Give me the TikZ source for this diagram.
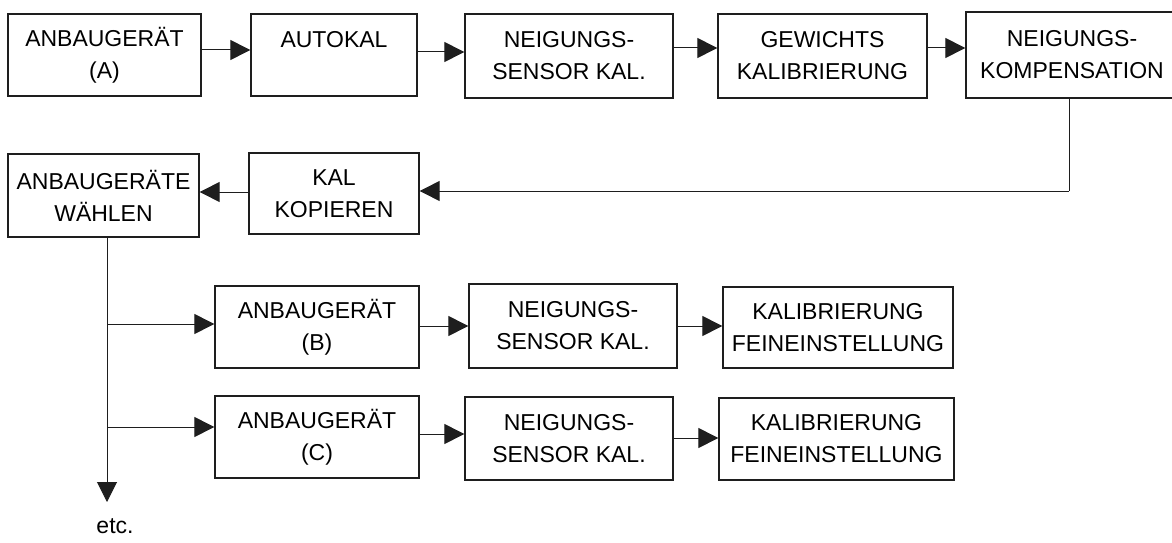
\documentclass[tikz,border=0pt]{standalone}
\usepackage{fontspec}
\setmainfont{Liberation Sans}
\usetikzlibrary{arrows.meta}
\definecolor{ln}{RGB}{30,30,30}
\tikzset{
  box/.style={draw=ln, line width=1.3pt, inner sep=0pt, align=center,
    font=\fontsize{23}{32}\selectfont, text=black},
  arr/.style={draw=ln, line width=1pt, -{Triangle[length=20pt,width=20pt]}},
  ln1/.style={draw=ln, line width=1pt}
}
\begin{document}
\begin{tikzpicture}[x=1pt,y=-1pt]
\useasboundingbox (0,0) rectangle (1172,543);
% row 1
\node[box, minimum width=193pt, minimum height=82pt] (A) at (104.5,55) {ANBAUGERÄT\\(A)};
\node[box, minimum width=166pt, minimum height=82pt] (AK) at (334,55) {AUTOKAL\\\mbox{}};
\node[box, minimum width=208pt, minimum height=84pt] (NS1) at (569,56) {NEIGUNGS-\\SENSOR KAL.};
\node[box, minimum width=209pt, minimum height=84pt] (GW) at (822.5,56) {GEWICHTS\\KALIBRIERUNG};
\node[box, minimum width=212pt, minimum height=86pt] (NK) at (1072,55) {NEIGUNGS-\\KOMPENSATION};
% row 2
\node[box, minimum width=170pt, minimum height=81pt] (KK) at (334,193.5) {KAL\\KOPIEREN};
\node[box, minimum width=191pt, minimum height=83pt] (AW) at (103.5,195.5) {ANBAUGERÄTE\\WÄHLEN};
% row B
\node[box, minimum width=204pt, minimum height=82pt] (B) at (317,327) {ANBAUGERÄT\\(B)};
\node[box, minimum width=208pt, minimum height=84pt] (NSB) at (573,326) {NEIGUNGS-\\SENSOR KAL.};
\node[box, minimum width=230pt, minimum height=81pt] (KFB) at (838,327.5) {KALIBRIERUNG\\FEINEINSTELLUNG};
% row C
\node[box, minimum width=204pt, minimum height=82pt] (C) at (317,437) {ANBAUGERÄT\\(C)};
\node[box, minimum width=208pt, minimum height=83pt] (NSC) at (569,438.5) {NEIGUNGS-\\SENSOR KAL.};
\node[box, minimum width=235pt, minimum height=82pt] (KFC) at (836.5,439) {KALIBRIERUNG\\FEINEINSTELLUNG};
% etc
\node[font=\fontsize{23}{32}\selectfont, inner sep=0pt] (etc) at (115,526) {etc.};
\coordinate (down) at (107,502);
\coordinate (turn) at (1069,191);
\coordinate (jB) at (107,324);
\coordinate (jC) at (107,427);
% row 1 connectors
\draw[arr] (A.east |- 0,50) -- (AK.west |- 0,50);
\draw[arr] (AK.east |- 0,52) -- (NS1.west |- 0,52);
\draw[arr] (NS1.east |- 0,48) -- (GW.west |- 0,48);
\draw[arr] (GW.east |- 0,48) -- (NK.west |- 0,48);
% return
\draw[ln1] (NK.south -| turn) -- (turn);
\draw[arr] (turn) -- (KK.east |- turn);
\draw[arr] (KK.west |- 0,192) -- (AW.east |- 0,192);
% trunk
\draw[arr] (AW.south -| down) -- (down);
\draw[arr] (jB) -- (B.west |- jB);
\draw[arr] (jC) -- (C.west |- jC);
% branch connectors
\draw[arr] (B.east |- 0,326) -- (NSB.west |- 0,326);
\draw[arr] (NSB.east |- 0,326) -- (KFB.west |- 0,326);
\draw[arr] (C.east |- 0,434) -- (NSC.west |- 0,434);
\draw[arr] (NSC.east |- 0,438) -- (KFC.west |- 0,438);
\end{tikzpicture}
\end{document}
